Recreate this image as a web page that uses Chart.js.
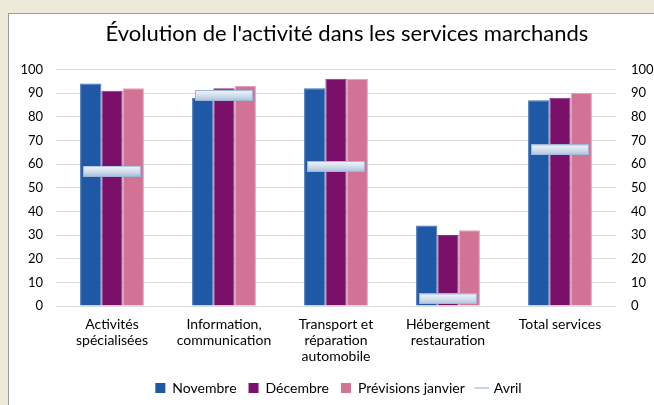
<!DOCTYPE html>
<html>
<head>
<meta charset="utf-8">
<script src="https://cdn.jsdelivr.net/npm/chart.js@4.4.1/dist/chart.umd.min.js"></script>
<style>
    html, body { margin: 0; padding: 0; background: #ece9d8; overflow: hidden; }
    #frame {
        position: absolute; left: 8px; top: 13px; width: 680px; height: 400px;
        background: #fff; border-left: 1px solid #9c9c9c; border-top: 1px solid #9c9c9c;
    }
    #wrap { position: absolute; left: 0; top: 0; width: 659px; height: 391px; }
</style>
</head>
<body>
<div id="frame"><div id="wrap"><canvas id="myChart"></canvas></div></div>
<script>
const categories = [
    ['Activités', 'spécialisées'],
    ['Information,', 'communication'],
    ['Transport et', 'réparation', 'automobile'],
    ['Hébergement', 'restauration'],
    'Total services'
]
const novembre = [94, 88, 92, 34, 87]
const decembre = [91, 92, 96, 30, 88]
const previsions = [92, 93, 96, 32, 90]
const avril = [57, 89, 59, 3, 66]
const yTicks = [0, 10, 20, 30, 40, 50, 60, 70, 80, 90, 100]

Chart.defaults.color = '#000'
Chart.defaults.font.family = 'Lato, "Open Sans", sans-serif'
Chart.defaults.font.size = 13

// the Avril marker: a flat light-blue bar drawn as a point image
const marker = document.createElement('canvas')
marker.width = 58
marker.height = 11
const mctx = marker.getContext('2d')
const grad = mctx.createLinearGradient(0, 0, 0, 11)
grad.addColorStop(0, '#f4f7fb')
grad.addColorStop(0.5, '#d3dfee')
grad.addColorStop(1, '#a9c0de')
mctx.fillStyle = grad
mctx.fillRect(0, 0, 58, 11)
mctx.strokeStyle = '#9fb6d6'
mctx.lineWidth = 1
mctx.strokeRect(0.5, 0.5, 57, 10)

const fitWidth = (w) => (scale) => { scale.width = w }

var chart = new Chart(document.getElementById('myChart'), {
    type: 'bar',
    data: {
        labels: categories,
        datasets: [
            { label: 'Novembre', data: novembre, backgroundColor: '#1f59a6', borderColor: '#3f72b6', borderWidth: 1, order: 1 },
            { label: 'Décembre', data: decembre, backgroundColor: '#7b106a', borderColor: '#8d3080', borderWidth: 1, order: 1 },
            { label: 'Prévisions janvier', data: previsions, backgroundColor: '#d27395', borderColor: '#e2a3ba', borderWidth: 1, order: 1 },
            {
                type: 'line', label: 'Avril', data: avril, showLine: false,
                pointStyle: marker, borderColor: '#c6d6ea', backgroundColor: '#c6d6ea',
                order: 0
            }
        ]
    },
    options: {
        responsive: true,
        maintainAspectRatio: false,
        animation: false,
        categoryPercentage: 0.57,
        barPercentage: 1.0,
        layout: { padding: { left: 0, right: 0, top: 0, bottom: 0 } },
        scales: {
            x: {
                afterFit: (s) => { s.height = 63 },
                grid: { display: false },
                border: { display: false },
                ticks: { maxRotation: 0, autoSkip: false, padding: 2, font: { size: 14, lineHeight: 1.15 } }
            },
            y: {
                min: 0, max: 100,
                afterFit: fitWidth(47),
                afterBuildTicks: (s) => { s.ticks = yTicks.map(v => ({ value: v })) },
                grid: { color: '#d9d9d9', drawTicks: false },
                border: { display: false },
                ticks: { padding: 13 }
            },
            y2: {
                position: 'right',
                min: 0, max: 100,
                afterFit: fitWidth(52),
                afterBuildTicks: (s) => { s.ticks = yTicks.map(v => ({ value: v })) },
                grid: { display: false, drawTicks: false },
                border: { display: false },
                ticks: { padding: 15 }
            }
        },
        plugins: {
            title: {
                display: true,
                text: "   Évolution de l'activité dans les services marchands",
                font: { size: 22, weight: 'normal' },
                padding: { top: 7, bottom: 22 }
            },
            legend: {
                position: 'bottom',
                labels: {
                    usePointStyle: true,
                    boxWidth: 10,
                    boxHeight: 10,
                    padding: 12,
                    font: { size: 14 },
                    generateLabels: (c) => c.data.datasets.map((ds, i) => ({
                        text: ds.label,
                        fillStyle: ds.type === 'line' ? '#c6d6ea' : ds.backgroundColor,
                        strokeStyle: ds.type === 'line' ? '#c6d6ea' : ds.backgroundColor,
                        lineWidth: ds.type === 'line' ? 2 : 0,
                        pointStyle: ds.type === 'line' ? 'line' : 'rect',
                        fontColor: '#000',
                        datasetIndex: i,
                        hidden: false
                    }))
                }
            },
            tooltip: { enabled: false }
        }
    }
})
</script>
</body>
</html>
